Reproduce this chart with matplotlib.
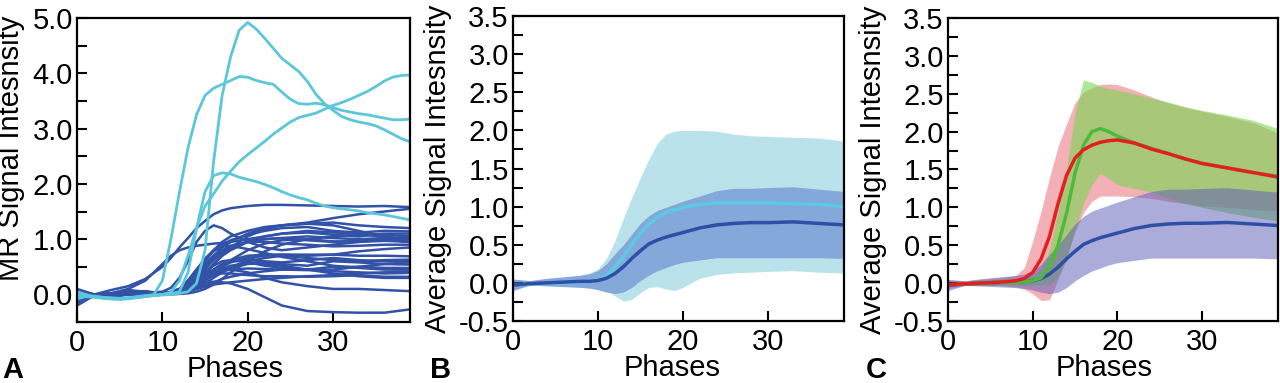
import numpy as np
import matplotlib
matplotlib.use("Agg")
import matplotlib.pyplot as plt
from matplotlib.ticker import MultipleLocator, FormatStrFormatter

plt.rcParams['font.family'] = ['Liberation Sans', 'DejaVu Sans']
plt.rcParams['axes.unicode_minus'] = False

# panel A: individual curves
blue_phases = [0, 2, 4, 6, 8, 10, 11, 12, 13, 14, 15, 16, 17, 18, 20, 22, 24, 27, 30, 33, 36, 39]
blue_curves = [
    [-0.05, 0.0, 0.08, 0.15, 0.28, 0.5, 0.66, 0.85, 1.02, 1.2, 1.33, 1.45, 1.52, 1.56, 1.6, 1.62, 1.62, 1.61, 1.6, 1.59, 1.6, 1.58],
    [0.05, 0.0, 0.02, 0.1, 0.25, 0.55, 0.7, 0.8, 0.85, 0.88, 0.9, 0.92, 0.93, 0.95, 1.0, 1.05, 1.1, 1.15, 1.12, 1.1, 1.08, 1.05],
    [0.0, -0.02, 0.0, 0.05, 0.03, 0.05, 0.12, 0.3, 0.6, 0.95, 1.15, 1.25, 1.2, 1.1, 0.95, 0.85, 0.8, 0.85, 0.9, 0.95, 1.0, 1.02],
    [-0.1, -0.02, 0.0, 0.02, 0.0, 0.02, 0.05, 0.1, 0.15, 0.2, 0.22, 0.23, 0.22, 0.2, 0.1, -0.05, -0.2, -0.3, -0.32, -0.33, -0.33, -0.27],
    [0.1, 0.0, -0.03, 0.0, 0.0, 0.02, 0.04, 0.08, 0.15, 0.25, 0.35, 0.42, 0.45, 0.45, 0.4, 0.3, 0.22, 0.15, 0.1, 0.1, 0.08, 0.06],
    [-0.2, -0.02, 0.0, 0.02, 0.0, 0.0, 0.02, 0.05, 0.15, 0.3, 0.5, 0.7, 0.85, 0.95, 1.1, 1.2, 1.25, 1.3, 1.38, 1.45, 1.5, 1.55],
    [0.0, -0.03, -0.05, 0.0, 0.02, 0.0, 0.03, 0.08, 0.2, 0.4, 0.6, 0.8, 0.95, 1.05, 1.15, 1.22, 1.25, 1.28, 1.3, 1.25, 1.22, 1.2],
    [-0.05, -0.02, 0.02, 0.05, 0.02, 0.0, 0.02, 0.05, 0.1, 0.2, 0.35, 0.55, 0.7, 0.8, 0.95, 1.05, 1.1, 1.12, 1.08, 1.05, 1.1, 1.1],
    [0.02, -0.02, -0.04, 0.05, 0.06, 0.02, 0.03, 0.06, 0.12, 0.25, 0.45, 0.65, 0.78, 0.85, 0.95, 1.0, 1.02, 1.05, 1.02, 1.0, 1.02, 1.0],
    [-0.08, -0.02, 0.0, 0.03, 0.0, 0.0, 0.01, 0.03, 0.07, 0.15, 0.25, 0.38, 0.5, 0.62, 0.8, 0.92, 0.98, 1.0, 0.96, 0.95, 0.97, 0.95],
    [0.05, 0.0, -0.02, 0.0, 0.04, 0.02, 0.04, 0.1, 0.22, 0.38, 0.55, 0.7, 0.8, 0.88, 0.95, 0.95, 0.92, 0.9, 0.87, 0.88, 0.9, 0.9],
    [-0.12, -0.03, 0.0, 0.02, 0.02, 0.0, 0.02, 0.04, 0.1, 0.2, 0.32, 0.45, 0.55, 0.62, 0.7, 0.72, 0.72, 0.7, 0.72, 0.7, 0.7, 0.69],
    [0.0, -0.02, 0.0, 0.06, 0.05, 0.01, 0.02, 0.05, 0.12, 0.22, 0.35, 0.45, 0.55, 0.6, 0.62, 0.6, 0.58, 0.62, 0.66, 0.62, 0.6, 0.6],
    [-0.03, -0.01, -0.03, 0.0, 0.02, 0.0, 0.01, 0.03, 0.06, 0.12, 0.2, 0.3, 0.4, 0.48, 0.55, 0.58, 0.55, 0.52, 0.6, 0.58, 0.55, 0.54],
    [0.08, 0.0, -0.02, 0.03, 0.01, 0.0, 0.02, 0.06, 0.14, 0.26, 0.4, 0.52, 0.6, 0.62, 0.58, 0.52, 0.48, 0.45, 0.5, 0.5, 0.48, 0.48],
    [-0.15, -0.03, 0.0, 0.0, 0.0, 0.0, 0.01, 0.02, 0.05, 0.1, 0.16, 0.22, 0.28, 0.32, 0.38, 0.42, 0.45, 0.45, 0.42, 0.4, 0.38, 0.39],
    [0.02, -0.02, 0.0, 0.04, 0.02, 0.0, 0.02, 0.05, 0.1, 0.18, 0.28, 0.35, 0.38, 0.38, 0.35, 0.33, 0.33, 0.32, 0.33, 0.35, 0.32, 0.32],
    [0.0, -0.02, 0.02, 0.08, 0.05, 0.02, 0.04, 0.1, 0.25, 0.45, 0.65, 0.8, 0.9, 0.98, 1.08, 1.15, 1.2, 1.22, 1.15, 1.12, 1.15, 1.14],
    [-0.06, -0.02, -0.02, 0.02, 0.03, 0.01, 0.02, 0.04, 0.08, 0.15, 0.25, 0.38, 0.5, 0.58, 0.66, 0.7, 0.72, 0.72, 0.72, 0.78, 0.82, 0.85],
    [0.04, -0.01, 0.0, 0.05, 0.04, 0.02, 0.03, 0.06, 0.12, 0.2, 0.3, 0.38, 0.42, 0.45, 0.47, 0.46, 0.45, 0.44, 0.45, 0.5, 0.55, 0.58],
    [-0.02, -0.02, 0.0, 0.02, 0.02, 0.01, 0.03, 0.1, 0.25, 0.45, 0.62, 0.78, 0.87, 0.88, 0.82, 0.75, 0.68, 0.6, 0.52, 0.48, 0.45, 0.45],
    [0.03, -0.01, -0.02, 0.0, 0.0, 0.0, 0.0, 0.01, 0.02, 0.05, 0.1, 0.18, 0.28, 0.4, 0.6, 0.78, 0.9, 1.0, 1.05, 1.08, 1.05, 1.0],
    [-0.1, -0.02, 0.0, 0.02, 0.01, 0.0, 0.02, 0.05, 0.1, 0.18, 0.28, 0.38, 0.46, 0.52, 0.56, 0.55, 0.52, 0.45, 0.38, 0.33, 0.3, 0.3],
    [0.0, -0.02, 0.02, 0.04, 0.02, 0.0, 0.02, 0.05, 0.12, 0.25, 0.4, 0.55, 0.7, 0.85, 1.05, 1.18, 1.25, 1.28, 1.25, 1.15, 1.05, 0.98],
    [0.06, 0.0, -0.02, 0.0, 0.03, 0.01, 0.03, 0.08, 0.18, 0.32, 0.48, 0.62, 0.75, 0.85, 0.95, 1.0, 1.02, 0.98, 0.95, 0.98, 1.0, 0.95],
    [-0.04, -0.02, 0.0, 0.02, 0.02, 0.0, 0.01, 0.03, 0.06, 0.1, 0.14, 0.18, 0.2, 0.22, 0.25, 0.28, 0.3, 0.33, 0.35, 0.38, 0.4, 0.42],
    [0.0, -0.01, -0.01, 0.03, 0.03, 0.01, 0.02, 0.05, 0.1, 0.17, 0.26, 0.35, 0.42, 0.5, 0.6, 0.66, 0.7, 0.66, 0.62, 0.6, 0.62, 0.63],
]

cyan_phases = list(range(40))
cyan_curves = [
    [-0.02, -0.03, -0.03, -0.05, -0.07, -0.08, -0.07, -0.05, -0.03, 0.0,
     0.25, 1.0, 1.85, 2.65, 3.25, 3.6, 3.73, 3.8, 3.87, 3.94,
     3.93, 3.87, 3.83, 3.8, 3.66, 3.53, 3.45, 3.44, 3.46, 3.43,
     3.38, 3.33, 3.3, 3.27, 3.25, 3.22, 3.19, 3.16, 3.16, 3.17],
    [0.05, 0.0, -0.04, -0.06, -0.08, -0.09, -0.08, -0.06, -0.04, -0.02,
     -0.01, 0.0, 0.02, 0.05, 0.2, 0.8, 2.4, 3.6, 4.3, 4.78,
     4.92, 4.8, 4.63, 4.45, 4.27, 4.15, 4.03, 3.85, 3.62, 3.45,
     3.33, 3.22, 3.16, 3.12, 3.09, 3.05, 2.98, 2.9, 2.82, 2.76],
    [-0.08, -0.04, -0.05, -0.07, -0.08, -0.08, -0.06, -0.05, -0.03, -0.02,
     0.0, 0.04, 0.25, 0.7, 1.2, 1.6, 1.82, 2.05, 2.23, 2.4,
     2.53, 2.65, 2.77, 2.9, 3.01, 3.12, 3.2, 3.24, 3.28, 3.35,
     3.42, 3.47, 3.53, 3.6, 3.67, 3.76, 3.86, 3.93, 3.96, 3.97],
    [0.0, -0.02, -0.04, -0.06, -0.06, -0.07, -0.06, -0.04, -0.02, -0.01,
     0.0, 0.01, 0.05, 0.4, 1.2, 1.86, 2.15, 2.2, 2.18, 2.12,
     2.08, 2.04, 1.99, 1.93, 1.86, 1.8, 1.75, 1.71, 1.65, 1.6,
     1.57, 1.55, 1.53, 1.51, 1.48, 1.46, 1.44, 1.41, 1.38, 1.35],
]

# panels B and C: group means and bands
band_phases = [0, 2, 4, 6, 8, 9, 10, 11, 12, 13, 14, 15, 16, 17, 18, 19, 20, 22, 24, 26, 28, 30, 33, 36, 39]
cyan_hi = [0.05, 0.02, 0.04, 0.07, 0.1, 0.13, 0.18, 0.32, 0.55, 0.85, 1.12, 1.38, 1.62, 1.83, 1.95, 1.99, 2.0, 2.0, 1.99, 1.95, 1.93, 1.92, 1.91, 1.9, 1.86]
cyan_lo = [-0.06, -0.02, -0.02, -0.02, -0.03, -0.04, -0.06, -0.1, -0.17, -0.24, -0.22, -0.13, -0.06, -0.05, -0.08, -0.1, -0.06, 0.06, 0.11, 0.13, 0.14, 0.15, 0.16, 0.14, 0.13]
blue_hi = [0.05, 0.03, 0.06, 0.08, 0.1, 0.12, 0.16, 0.25, 0.38, 0.5, 0.64, 0.78, 0.88, 0.95, 0.99, 1.03, 1.07, 1.14, 1.21, 1.24, 1.24, 1.25, 1.26, 1.23, 1.2]
blue_lo = [-0.1, -0.03, -0.04, -0.05, -0.06, -0.07, -0.09, -0.12, -0.14, -0.12, -0.06, 0.03, 0.1, 0.16, 0.2, 0.24, 0.27, 0.3, 0.33, 0.33, 0.33, 0.33, 0.33, 0.33, 0.32]
cyan_mean = [-0.02, -0.02, -0.01, 0.0, 0.01, 0.02, 0.04, 0.09, 0.2, 0.34, 0.5, 0.65, 0.77, 0.86, 0.92, 0.96, 0.99, 1.03, 1.05, 1.05, 1.05, 1.05, 1.04, 1.03, 1.0]
blue_mean = [-0.03, -0.01, 0.0, 0.01, 0.02, 0.02, 0.03, 0.06, 0.12, 0.21, 0.32, 0.42, 0.51, 0.56, 0.6, 0.63, 0.66, 0.72, 0.76, 0.78, 0.79, 0.79, 0.8, 0.78, 0.76]

red_hi = [0.04, 0.03, 0.05, 0.07, 0.1, 0.2, 0.55, 0.95, 1.4, 1.8, 2.1, 2.38, 2.52, 2.58, 2.62, 2.63, 2.62, 2.55, 2.46, 2.38, 2.32, 2.27, 2.2, 2.12, 1.98]
red_lo = [-0.07, -0.03, -0.03, -0.03, -0.05, -0.08, -0.14, -0.23, -0.22, 0.05, 0.35, 0.68, 0.93, 1.08, 1.15, 1.15, 1.15, 1.14, 1.12, 1.08, 1.05, 1.02, 1.0, 0.97, 0.95]
green_hi = [0.03, 0.02, 0.04, 0.05, 0.06, 0.07, 0.1, 0.2, 0.45, 0.95, 1.5, 2.25, 2.68, 2.65, 2.6, 2.57, 2.55, 2.5, 2.44, 2.39, 2.33, 2.28, 2.22, 2.15, 2.04]
green_lo = [-0.05, -0.03, -0.03, -0.03, -0.03, -0.03, -0.03, -0.03, -0.02, 0.08, 0.3, 0.7, 1.05, 1.3, 1.45, 1.38, 1.3, 1.25, 1.2, 1.12, 1.05, 1.0, 0.93, 0.87, 0.82]
red_mean = [-0.02, -0.01, 0.0, 0.01, 0.03, 0.06, 0.14, 0.32, 0.62, 1.05, 1.42, 1.65, 1.76, 1.82, 1.86, 1.88, 1.89, 1.85, 1.77, 1.71, 1.64, 1.58, 1.52, 1.46, 1.4]
green_mean = [-0.02, -0.01, 0.0, 0.01, 0.01, 0.02, 0.03, 0.07, 0.22, 0.5, 0.92, 1.45, 1.82, 2.0, 2.04, 2.0, 1.94, 1.85, 1.78, 1.71, 1.64, 1.58, 1.52, 1.46, 1.41]

x_ticks = [0, 10, 20, 30]

DARK_BLUE = '#3252a8'
CYAN = '#5cc6da'
FS = 21

fig = plt.figure(figsize=(12.8, 3.83), dpi=100)
axA = fig.add_axes([0.0602, 0.159, 0.260, 0.794])
axB = fig.add_axes([0.4008, 0.162, 0.2586, 0.796])
axC = fig.add_axes([0.7406, 0.162, 0.258, 0.791])


def style(ax, ymin, ymax, major, minor, ylabel, ylab_x, ylab_y, xlab_x):
    ax.set_xlim(0, 39)
    ax.set_ylim(ymin, ymax)
    ax.set_xticks(x_ticks)
    ax.yaxis.set_major_locator(MultipleLocator(major))
    ax.yaxis.set_minor_locator(MultipleLocator(minor))
    ax.yaxis.set_major_formatter(FormatStrFormatter('%.1f'))
    ax.tick_params(which='both', direction='in', length=7, width=1.5,
                   top=False, right=False, labelsize=FS)
    ax.tick_params(axis='y', pad=3)
    ax.tick_params(axis='x', pad=5)
    for s in ax.spines.values():
        s.set_linewidth(1.6)
    ax.set_ylabel(ylabel, fontsize=FS)
    ax.yaxis.set_label_coords(ylab_x, ylab_y)
    ax.set_xlabel('Phases', fontsize=FS)
    ax.xaxis.set_label_coords(xlab_x, -0.108)


# A
for c in blue_curves:
    axA.plot(blue_phases, c, color=DARK_BLUE, lw=1.8)
for c in cyan_curves:
    axA.plot(cyan_phases, c, color=CYAN, lw=2.0)
style(axA, -0.5, 5.0, 1.0, 0.5, 'MR Signal Intesnsity', -0.155, 0.57, 0.475)

# B
axB.fill_between(band_phases, cyan_lo, cyan_hi, color='#bae2eb', lw=0)
axB.fill_between(band_phases, blue_lo, blue_hi, color='#84a8da', lw=0)
axB.plot(band_phases, cyan_mean, color='#5ccbe2', lw=2.5)
axB.plot(band_phases, blue_mean, color='#2f4ea6', lw=2.5)
style(axB, -0.5, 3.5, 0.5, 0.25, 'Average Signal Intesnsity', -0.184, 0.5, 0.48)

# C
axC.fill_between(band_phases, red_lo, red_hi, color='#e6505f', alpha=0.45, lw=0)
axC.fill_between(band_phases, green_lo, green_hi, color='#78d850', alpha=0.6, lw=0)
axC.fill_between(band_phases, blue_lo, blue_hi, color='#5a5ab8', alpha=0.5, lw=0)
axC.plot(band_phases, blue_mean, color='#2f4ea6', lw=2.5)
axC.plot(band_phases, green_mean, color='#4cbb3c', lw=2.5)
axC.plot(band_phases, red_mean, color='#e3201f', lw=2.5)
style(axC, -0.5, 3.5, 0.5, 0.25, 'Average Signal Intesnsity', -0.185, 0.5, 0.473)

for x, letter in [(0.002, 'A'), (0.336, 'B'), (0.676, 'C')]:
    fig.text(x, 0.014, letter, fontsize=21, fontweight='bold')

fig.savefig('out.png', dpi=100)
